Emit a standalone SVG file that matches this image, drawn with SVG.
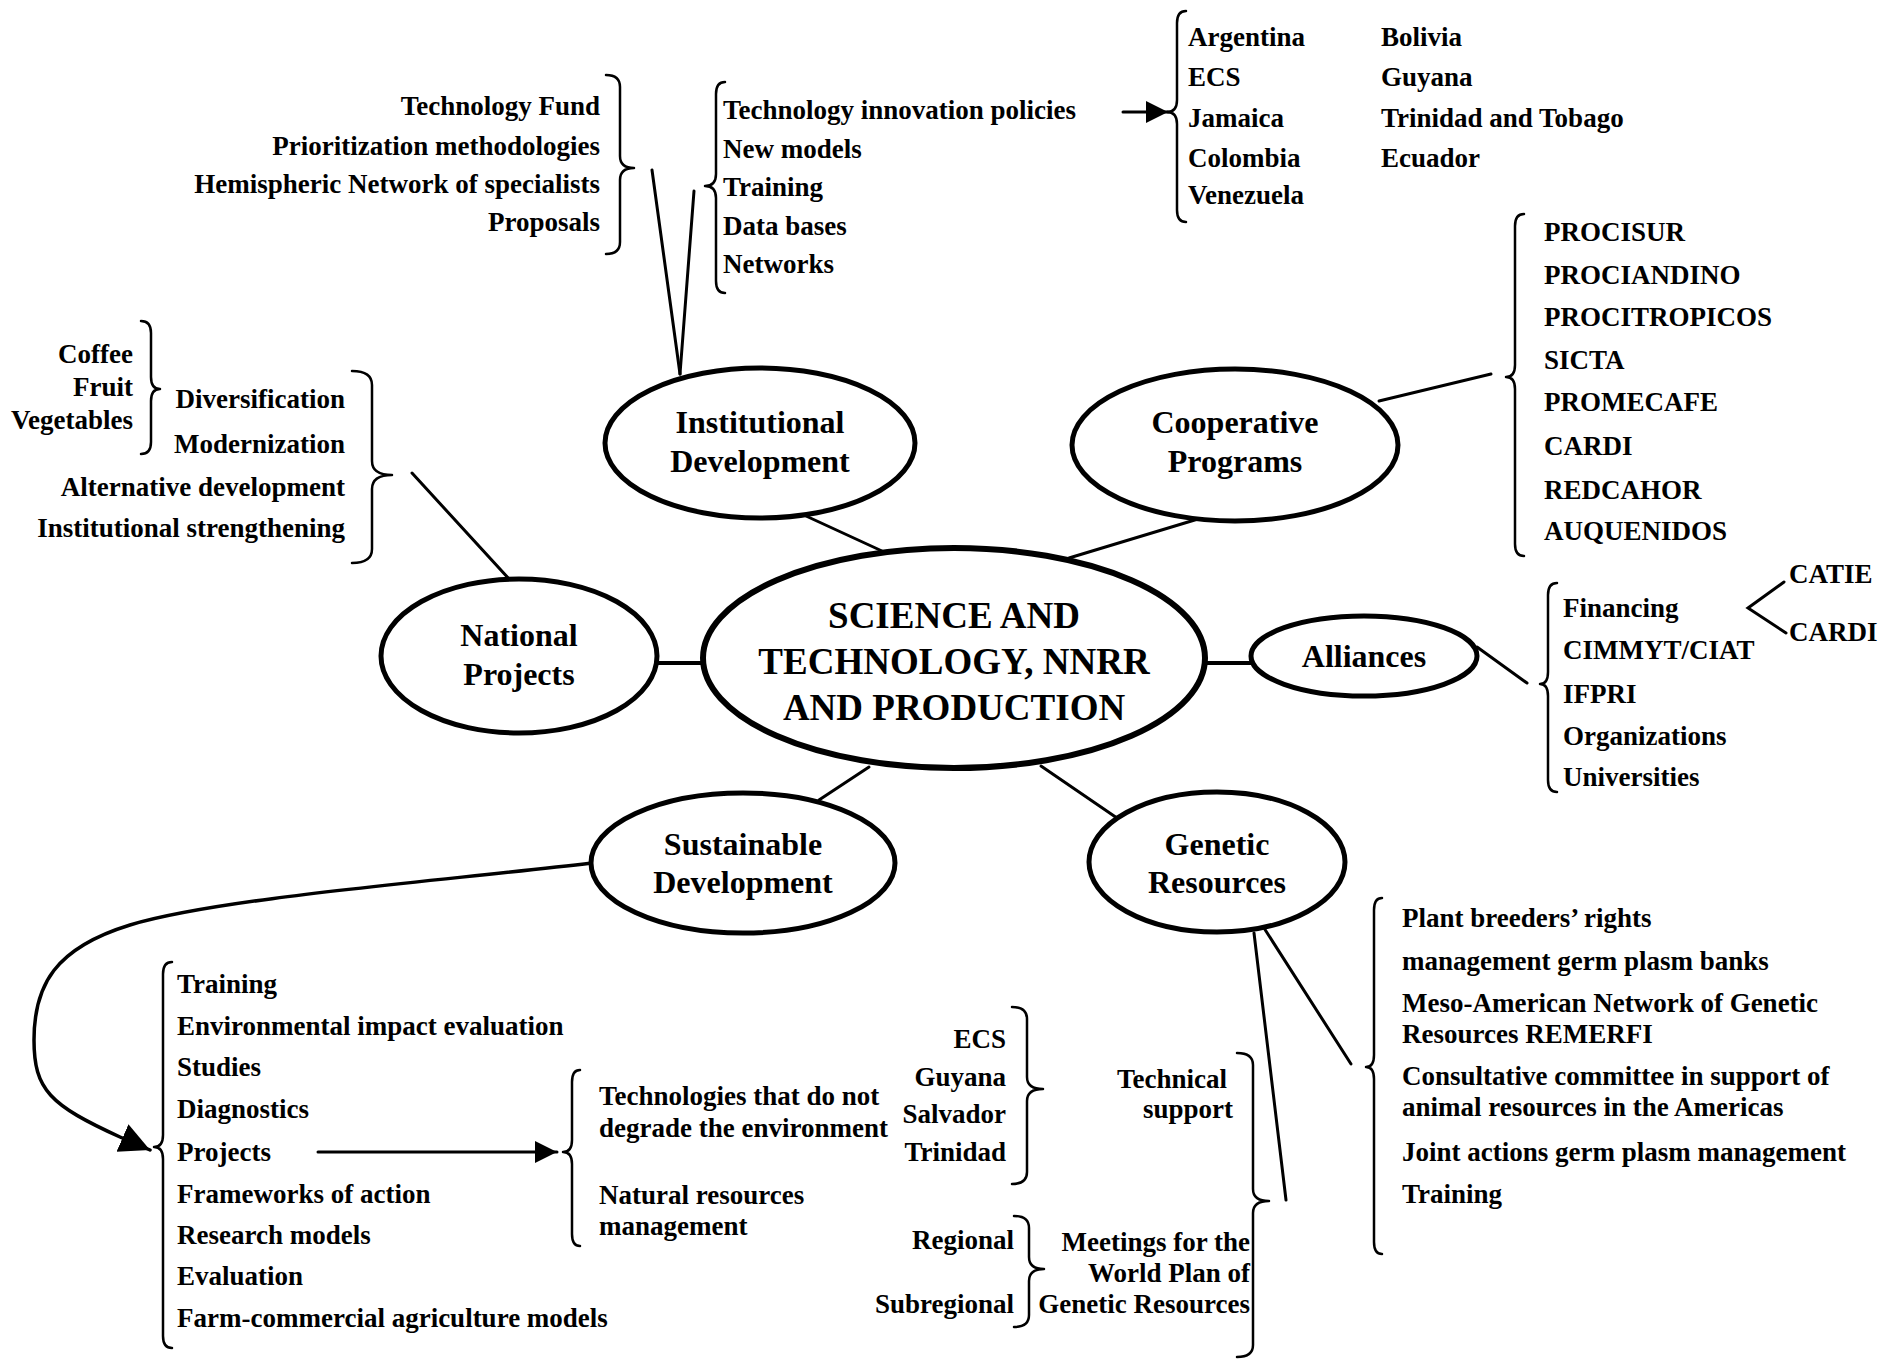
<svg xmlns="http://www.w3.org/2000/svg" width="1888" height="1360" viewBox="0 0 1888 1360">
<defs>
<style>
text{font-family:"Liberation Serif","Times New Roman",serif;font-weight:bold;fill:#000}
.t{font-size:27px}
.r{text-anchor:end}
.m{text-anchor:middle}
.n{font-size:32px;text-anchor:middle}
.c{font-size:37px;text-anchor:middle}
.node{fill:#fff;stroke:#000;stroke-width:5}
.ln{fill:none;stroke:#000;stroke-width:3;stroke-linecap:round}
.br{fill:none;stroke:#000;stroke-width:2.5;stroke-linejoin:round;stroke-linecap:round}
</style>
<marker id="ah" markerUnits="userSpaceOnUse" markerWidth="24" markerHeight="24" refX="22" refY="11" orient="auto"><path d="M0,0 L22,11 L0,22 Z" fill="#000"/></marker>
<marker id="ahL" markerUnits="userSpaceOnUse" markerWidth="32" markerHeight="32" refX="30" refY="15" orient="auto"><path d="M0,0 L30,15 L0,30 Z" fill="#000"/></marker>
</defs>
<rect width="1888" height="1360" fill="#fff"/>

<g id="connectors">
<line class="ln" x1="806" y1="516" x2="882" y2="551"/>
<line class="ln" x1="1069" y1="558" x2="1198" y2="519"/>
<line class="ln" x1="654" y1="663" x2="705" y2="663" style="stroke-width:4"/>
<line class="ln" x1="1203" y1="663" x2="1253" y2="663" style="stroke-width:4"/>
<line class="ln" x1="869" y1="767" x2="819" y2="800"/>
<line class="ln" x1="1041" y1="766" x2="1117" y2="818"/>
<line class="ln" x1="652" y1="170" x2="680" y2="374"/>
<line class="ln" x1="694" y1="191" x2="680" y2="374"/>
<line class="ln" x1="412" y1="473" x2="510" y2="580"/>
<line class="ln" x1="1379" y1="401" x2="1491" y2="374"/>
<line class="ln" x1="1477" y1="647" x2="1527" y2="683"/>
<polyline class="ln" points="1784,582 1748,608 1786,633"/>
<line class="ln" x1="1254" y1="933" x2="1286" y2="1200"/>
<line class="ln" x1="1264" y1="928" x2="1351" y2="1064"/>
<line class="ln" x1="1123" y1="112" x2="1168" y2="112" marker-end="url(#ah)"/>
<line class="ln" x1="318" y1="1152" x2="557" y2="1152" marker-end="url(#ah)"/>
<path class="ln" d="M592,863 C430,882 220,898 130,925 C55,948 34,985 34,1040 C34,1090 50,1105 120,1137 L150,1150" marker-end="url(#ahL)" style="stroke-width:3.5"/>
</g>

<g id="braces">
<path class="br" d="M606,75 Q620,75 620,87 L620,156 Q620,168 634,168 Q620,168 620,180 L620,242 Q620,254 606,254"/>
<path class="br" d="M725,82 Q716,82 716,94 L716,174 Q716,186 705,186 Q716,186 716,198 L716,281 Q716,293 725,293"/>
<path class="br" d="M1186,11 Q1177,11 1177,23 L1177,100 Q1177,112 1167,112 Q1177,112 1177,124 L1177,210 Q1177,222 1186,222"/>
<path class="br" d="M1524,214 Q1515,214 1515,226 L1515,365 Q1515,377 1506,377 Q1515,377 1515,389 L1515,544 Q1515,556 1524,556"/>
<path class="br" d="M141,321 Q151,321 151,333 L151,377 Q151,389 160,389 Q151,389 151,401 L151,442 Q151,454 141,454"/>
<path class="br" d="M352,371 Q372,371 372,385 L372,461 Q372,475 392,475 Q372,475 372,489 L372,549 Q372,563 352,563"/>
<path class="br" d="M1557,583 Q1548,583 1548,595 L1548,672 Q1548,684 1540,684 Q1548,684 1548,696 L1548,780 Q1548,792 1557,792"/>
<path class="br" d="M172,962 Q163,962 163,974 L163,1135 Q163,1147 154,1147 Q163,1147 163,1159 L163,1336 Q163,1348 172,1348"/>
<path class="br" d="M580,1070 Q572,1070 572,1082 L572,1140 Q572,1152 563,1152 Q572,1152 572,1164 L572,1234 Q572,1246 580,1246"/>
<path class="br" d="M1012,1007 Q1027,1007 1027,1019 L1027,1077 Q1027,1089 1043,1089 Q1027,1089 1027,1101 L1027,1172 Q1027,1184 1012,1184"/>
<path class="br" d="M1014,1216 Q1029,1216 1029,1228 L1029,1257 Q1029,1269 1044,1269 Q1029,1269 1029,1281 L1029,1315 Q1029,1327 1014,1327"/>
<path class="br" d="M1237,1053 Q1253,1053 1253,1065 L1253,1189 Q1253,1201 1269,1201 Q1253,1201 1253,1213 L1253,1345 Q1253,1357 1237,1357"/>
<path class="br" d="M1382,898 Q1374,898 1374,910 L1374,1055 Q1374,1067 1366,1067 Q1374,1067 1374,1079 L1374,1242 Q1374,1254 1382,1254"/>
</g>

<g id="node-central">
<ellipse class="node" cx="954" cy="658" rx="251" ry="110" style="stroke-width:6"/>
<text class="c" x="954" y="628">SCIENCE AND</text>
<text class="c" x="954" y="674">TECHNOLOGY, NNRR</text>
<text class="c" x="954" y="720">AND PRODUCTION</text>
</g>
<g id="node-institutional">
<ellipse class="node" cx="760" cy="443" rx="155" ry="75"/>
<text class="n" x="760" y="433">Institutional</text>
<text class="n" x="760" y="472">Development</text>
</g>
<g id="node-cooperative">
<ellipse class="node" cx="1235" cy="445" rx="163" ry="76"/>
<text class="n" x="1235" y="433">Cooperative</text>
<text class="n" x="1235" y="472">Programs</text>
</g>
<g id="node-national">
<ellipse class="node" cx="519" cy="656" rx="138" ry="77"/>
<text class="n" x="519" y="646">National</text>
<text class="n" x="519" y="685">Projects</text>
</g>
<g id="node-alliances">
<ellipse class="node" cx="1364" cy="656" rx="113" ry="40"/>
<text class="n" x="1364" y="667">Alliances</text>
</g>
<g id="node-sustainable">
<ellipse class="node" cx="743" cy="863" rx="152" ry="70"/>
<text class="n" x="743" y="855">Sustainable</text>
<text class="n" x="743" y="893">Development</text>
</g>
<g id="node-genetic">
<ellipse class="node" cx="1217" cy="862" rx="128" ry="70"/>
<text class="n" x="1217" y="855">Genetic</text>
<text class="n" x="1217" y="893">Resources</text>
</g>

<g id="lists" class="t">
<text class="t r" x="600" y="115">Technology Fund</text>
<text class="t r" x="600" y="155">Prioritization methodologies</text>
<text class="t r" x="600" y="193">Hemispheric Network of specialists</text>
<text class="t r" x="600" y="231">Proposals</text>

<text class="t" x="723" y="119">Technology innovation policies</text>
<text class="t" x="723" y="158">New models</text>
<text class="t" x="723" y="196">Training</text>
<text class="t" x="723" y="235">Data bases</text>
<text class="t" x="723" y="273">Networks</text>

<text class="t" x="1188" y="46">Argentina</text>
<text class="t" x="1188" y="86">ECS</text>
<text class="t" x="1188" y="127">Jamaica</text>
<text class="t" x="1188" y="167">Colombia</text>
<text class="t" x="1188" y="204">Venezuela</text>
<text class="t" x="1381" y="46">Bolivia</text>
<text class="t" x="1381" y="86">Guyana</text>
<text class="t" x="1381" y="127">Trinidad and Tobago</text>
<text class="t" x="1381" y="167">Ecuador</text>

<text class="t" x="1544" y="241">PROCISUR</text>
<text class="t" x="1544" y="284">PROCIANDINO</text>
<text class="t" x="1544" y="326">PROCITROPICOS</text>
<text class="t" x="1544" y="369">SICTA</text>
<text class="t" x="1544" y="411">PROMECAFE</text>
<text class="t" x="1544" y="455">CARDI</text>
<text class="t" x="1544" y="499">REDCAHOR</text>
<text class="t" x="1544" y="540">AUQUENIDOS</text>

<text class="t r" x="133" y="363">Coffee</text>
<text class="t r" x="133" y="396">Fruit</text>
<text class="t r" x="133" y="429">Vegetables</text>
<text class="t r" x="345" y="408">Diversification</text>
<text class="t r" x="345" y="453">Modernization</text>
<text class="t r" x="345" y="496">Alternative development</text>
<text class="t r" x="345" y="537">Institutional strengthening</text>

<text class="t" x="1563" y="617">Financing</text>
<text class="t" x="1563" y="659">CIMMYT/CIAT</text>
<text class="t" x="1563" y="703">IFPRI</text>
<text class="t" x="1563" y="745">Organizations</text>
<text class="t" x="1563" y="786">Universities</text>
<text class="t" x="1789" y="583">CATIE</text>
<text class="t" x="1789" y="641">CARDI</text>

<text class="t" x="177" y="993">Training</text>
<text class="t" x="177" y="1035">Environmental impact evaluation</text>
<text class="t" x="177" y="1076">Studies</text>
<text class="t" x="177" y="1118">Diagnostics</text>
<text class="t" x="177" y="1161">Projects</text>
<text class="t" x="177" y="1203">Frameworks of action</text>
<text class="t" x="177" y="1244">Research models</text>
<text class="t" x="177" y="1285">Evaluation</text>
<text class="t" x="177" y="1327">Farm-commercial agriculture models</text>

<text class="t" x="599" y="1105">Technologies that do not</text>
<text class="t" x="599" y="1137">degrade the environment</text>
<text class="t" x="599" y="1204">Natural resources</text>
<text class="t" x="599" y="1235">management</text>

<text class="t r" x="1006" y="1048">ECS</text>
<text class="t r" x="1006" y="1086">Guyana</text>
<text class="t r" x="1006" y="1123">Salvador</text>
<text class="t r" x="1006" y="1161">Trinidad</text>

<text class="t r" x="1227" y="1088">Technical</text>
<text class="t r" x="1233" y="1118">support</text>

<text class="t r" x="1014" y="1249">Regional</text>
<text class="t r" x="1014" y="1313">Subregional</text>

<text class="t r" x="1250" y="1251">Meetings for the</text>
<text class="t r" x="1250" y="1282">World Plan of</text>
<text class="t r" x="1250" y="1313">Genetic Resources</text>

<text class="t" x="1402" y="927">Plant breeders’ rights</text>
<text class="t" x="1402" y="970">management germ plasm banks</text>
<text class="t" x="1402" y="1012">Meso-American Network of Genetic</text>
<text class="t" x="1402" y="1043">Resources REMERFI</text>
<text class="t" x="1402" y="1085">Consultative committee in support of</text>
<text class="t" x="1402" y="1116">animal resources in the Americas</text>
<text class="t" x="1402" y="1161">Joint actions germ plasm management</text>
<text class="t" x="1402" y="1203">Training</text>
</g>
</svg>
